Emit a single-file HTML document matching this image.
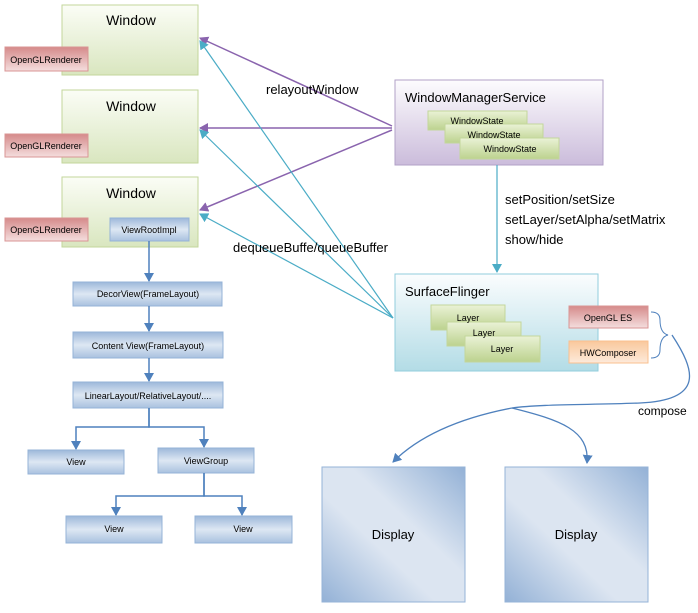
<!DOCTYPE html>
<html><head><style>
body{margin:0;background:#fff;width:698px;height:608px;overflow:hidden}
text{font-family:"Liberation Sans",sans-serif}
</style></head><body>
<svg width="698" height="608" viewBox="0 0 698 608" xmlns="http://www.w3.org/2000/svg">
<defs>
<linearGradient id="gw" x1="0" y1="0" x2="0" y2="1"><stop offset="0" stop-color="#fbfdf6"/><stop offset="1" stop-color="#d9e6bf"/></linearGradient>
<linearGradient id="gr" x1="0" y1="0" x2="0" y2="1"><stop offset="0" stop-color="#d58a8a"/><stop offset="1" stop-color="#f4dede"/></linearGradient>
<linearGradient id="gb" x1="0" y1="0" x2="0" y2="1"><stop offset="0" stop-color="#9db8da"/><stop offset="0.5" stop-color="#dde7f3"/><stop offset="1" stop-color="#a9c1df"/></linearGradient>
<linearGradient id="gp" x1="0" y1="0" x2="0" y2="1"><stop offset="0" stop-color="#fdfcfe"/><stop offset="1" stop-color="#cbbcdb"/></linearGradient>
<linearGradient id="gc" x1="0" y1="0" x2="0" y2="1"><stop offset="0" stop-color="#fbfdfe"/><stop offset="1" stop-color="#b3dce6"/></linearGradient>
<linearGradient id="gl" x1="0" y1="0" x2="0" y2="1"><stop offset="0" stop-color="#eaf2d6"/><stop offset="1" stop-color="#bcd28e"/></linearGradient>
<linearGradient id="go" x1="0" y1="0" x2="0" y2="1"><stop offset="0" stop-color="#f9c89c"/><stop offset="1" stop-color="#fdeadb"/></linearGradient>
<linearGradient id="gd" x1="1" y1="0" x2="0" y2="1"><stop offset="0" stop-color="#93b1d6"/><stop offset="0.4" stop-color="#dce5f1"/><stop offset="0.6" stop-color="#dce5f1"/><stop offset="1" stop-color="#93b1d6"/></linearGradient>
<marker id="ap" markerWidth="10" markerHeight="10" refX="8" refY="5" orient="auto" markerUnits="userSpaceOnUse"><path d="M0,0 L9,5 L0,10 z" fill="#8a64ae"/></marker>
<marker id="ac" markerWidth="10" markerHeight="10" refX="8" refY="5" orient="auto" markerUnits="userSpaceOnUse"><path d="M0,0 L9,5 L0,10 z" fill="#4bacc6"/></marker>
<marker id="ab" markerWidth="10" markerHeight="10" refX="8" refY="5" orient="auto" markerUnits="userSpaceOnUse"><path d="M0,0 L9,5 L0,10 z" fill="#4f81bd"/></marker>
</defs>
<g stroke="#c3d69b" fill="url(#gw)">
<rect x="62" y="5" width="136" height="70"/><rect x="62" y="90" width="136" height="73"/><rect x="62" y="177" width="136" height="70"/>
</g>
<g font-size="14" text-anchor="middle" fill="#000"><text x="131" y="25">Window</text><text x="131" y="111">Window</text><text x="131" y="198">Window</text></g>
<g stroke="#d99594" fill="url(#gr)"><rect x="5" y="47" width="83" height="24"/><rect x="5" y="134" width="83" height="23"/><rect x="5" y="218" width="83" height="23"/></g>
<g font-size="9" text-anchor="middle"><text x="46" y="63">OpenGLRenderer</text><text x="46" y="149">OpenGLRenderer</text><text x="46" y="233">OpenGLRenderer</text></g>
<g stroke="#95b3d7" fill="url(#gb)">
<rect x="110" y="218" width="79" height="23"/>
<rect x="73" y="282" width="149" height="24"/><rect x="73" y="332" width="150" height="26"/><rect x="73" y="382" width="150" height="26"/>
<rect x="28" y="450" width="96" height="24"/><rect x="158" y="448" width="96" height="25"/>
<rect x="66" y="516" width="96" height="27"/><rect x="195" y="516" width="97" height="27"/>
</g>
<g font-size="9" text-anchor="middle">
<text x="149" y="233">ViewRootImpl</text><text x="148" y="297">DecorView(FrameLayout)</text><text x="148" y="349">Content View(FrameLayout)</text><text x="148" y="399">LinearLayout/RelativeLayout/....</text>
<text x="76" y="465">View</text><text x="206" y="464">ViewGroup</text><text x="114" y="532">View</text><text x="243" y="532">View</text>
</g>
<g stroke="#4f81bd" stroke-width="1.5" fill="none" marker-end="url(#ab)">
<line x1="149" y1="241" x2="149" y2="281"/><line x1="149" y1="306" x2="149" y2="331"/><line x1="149" y1="358" x2="149" y2="381"/>
<polyline points="149,408 149,427 76,427 76,449"/><polyline points="149,408 149,427 204,427 204,447"/>
<polyline points="204,473 204,496 116,496 116,515"/><polyline points="204,473 204,496 242,496 242,515"/>
</g>
<rect x="395" y="80" width="208" height="85" stroke="#b2a1c7" fill="url(#gp)"/>
<text x="405" y="102" font-size="13">WindowManagerService</text>
<g stroke="#c3d69b" fill="url(#gl)"><rect x="428" y="111" width="99" height="19"/><rect x="445" y="124" width="98" height="19"/><rect x="460" y="138" width="99" height="21"/></g>
<g font-size="9" text-anchor="middle"><text x="477" y="124">WindowState</text><text x="494" y="138">WindowState</text><text x="510" y="152">WindowState</text></g>
<rect x="395" y="274" width="203" height="97" stroke="#92cddc" fill="url(#gc)"/>
<text x="405" y="296" font-size="13">SurfaceFlinger</text>
<g stroke="#c3d69b" fill="url(#gl)"><rect x="431" y="305" width="74" height="25"/><rect x="447" y="322" width="74" height="24"/><rect x="465" y="336" width="75" height="26"/></g>
<g font-size="9" text-anchor="middle"><text x="468" y="321">Layer</text><text x="484" y="336">Layer</text><text x="502" y="352">Layer</text></g>
<rect x="569" y="306" width="79" height="22" stroke="#d99594" fill="url(#gr)"/>
<rect x="569" y="341" width="79" height="22" stroke="#fac08f" fill="url(#go)"/>
<g font-size="9" text-anchor="middle"><text x="608" y="321">OpenGL ES</text><text x="608" y="356">HWComposer</text></g>
<g stroke="#95b3d7" fill="url(#gd)"><rect x="322" y="467" width="143" height="135"/><rect x="505" y="467" width="143" height="135"/></g>
<g font-size="13" text-anchor="middle"><text x="393" y="539">Display</text><text x="576" y="539">Display</text></g>
<g stroke="#8a64ae" stroke-width="1.5" marker-end="url(#ap)">
<line x1="392" y1="126" x2="200" y2="38"/><line x1="392" y1="128" x2="200" y2="128"/><line x1="392" y1="130" x2="200" y2="210"/>
</g>
<g stroke="#4bacc6" stroke-width="1.2" marker-end="url(#ac)">
<line x1="393" y1="318" x2="200" y2="41"/><line x1="393" y1="318" x2="200" y2="130"/><line x1="393" y1="318" x2="200" y2="214"/>
<line x1="497" y1="165" x2="497" y2="272"/>
</g>
<g font-size="13"><text x="266" y="94">relayoutWindow</text><text x="233" y="252">dequeueBuffe/queueBuffer</text>
<text x="505" y="204">setPosition/setSize</text><text x="505" y="224">setLayer/setAlpha/setMatrix</text><text x="505" y="244">show/hide</text>
<text x="638" y="415" font-size="12">compose</text></g>
<path d="M651,312 Q660,312 660,320 Q660,333 668,335 Q660,337 660,350 Q660,358 651,358" stroke="#4f81bd" fill="none"/>
<path d="M672,335 C695,370 705,400 640,403 C590,405 540,404 512,408" stroke="#4f81bd" stroke-width="1.3" fill="none"/>
<path d="M512,408 C460,418 420,435 393,462" stroke="#4f81bd" stroke-width="1.3" fill="none" marker-end="url(#ab)"/>
<path d="M512,408 C560,420 590,430 587,463" stroke="#4f81bd" stroke-width="1.3" fill="none" marker-end="url(#ab)"/>
</svg>
</body></html>
